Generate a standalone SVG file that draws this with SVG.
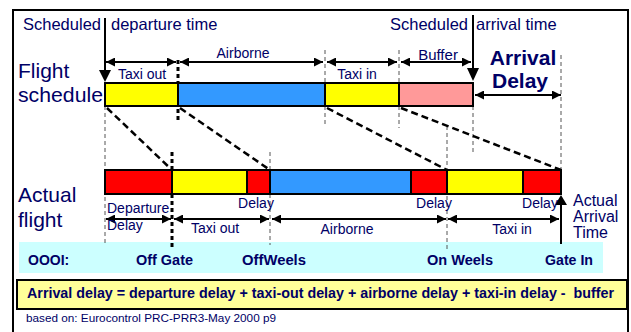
<svg xmlns="http://www.w3.org/2000/svg" width="631" height="332" viewBox="0 0 631 332">
<defs>
<marker id="ah" viewBox="0 0 10 10" refX="10" refY="5" markerWidth="5" markerHeight="4.5" markerUnits="strokeWidth" orient="auto-start-reverse">
<path d="M0,0 L10,5 L0,10 z" fill="#000"/>
</marker>
<style>
.t{font-family:"Liberation Sans",Arial,sans-serif;fill:#000066}
.b{font-weight:bold}
.bar{stroke:#000;stroke-width:2}
.dim{stroke:#000;stroke-width:2;fill:none;marker-start:url(#ah);marker-end:url(#ah)}
.thin{stroke:#555;stroke-width:1;stroke-dasharray:4,3;fill:none}
.thick{stroke:#000;stroke-width:3;stroke-dasharray:4,3;fill:none}
.diag{stroke:#000;stroke-width:2.5;stroke-dasharray:7,4;fill:none}
.solid{stroke:#000;stroke-width:2;fill:none}
</style>
</defs>
<rect width="631" height="332" fill="#fff"/>
<g id="frame">
<path d="M13,340 V10 H628 V340" fill="none" stroke="#000" stroke-width="2"/>
</g>
<g id="ooi-band">
<rect x="19" y="242" width="584" height="31" fill="#ccffff"/>
<text class="t b" x="28" y="265" font-size="14">OOOI:</text>
<text class="t b" x="136" y="265" font-size="14" textLength="57" lengthAdjust="spacingAndGlyphs">Off Gate</text>
<text class="t b" x="242" y="265" font-size="14" textLength="64" lengthAdjust="spacingAndGlyphs">OffWeels</text>
<text class="t b" x="427" y="265" font-size="14" textLength="66" lengthAdjust="spacingAndGlyphs">On Weels</text>
<text class="t b" x="545" y="265" font-size="14" textLength="48" lengthAdjust="spacingAndGlyphs">Gate In</text>
</g>
<g id="connectors">
<line class="thin" x1="105" y1="106" x2="105" y2="245"/>
<line class="thin" x1="325" y1="50" x2="325" y2="124"/>
<line class="thin" x1="399" y1="50" x2="399" y2="128"/>
<line class="thin" x1="473" y1="106" x2="473" y2="153"/>
<line class="thin" x1="561" y1="55" x2="561" y2="170"/>
<line class="thin" x1="270" y1="152" x2="270" y2="245"/>
<line class="thin" x1="447" y1="126" x2="447" y2="250"/>
<line class="thick" x1="178" y1="60" x2="178" y2="122"/>
<line class="thick" x1="172" y1="152" x2="172" y2="248"/>
<line class="diag" x1="107" y1="108" x2="172" y2="170"/>
<line class="diag" x1="180" y1="108" x2="270" y2="170"/>
<line class="diag" x1="327" y1="108" x2="447" y2="170"/>
<line class="diag" x1="401" y1="108" x2="561" y2="170"/>
<line class="solid" x1="105" y1="18" x2="105" y2="72"/>
<path d="M99,70 L111,70 L105,82 z" fill="#000"/>
<line class="solid" x1="473" y1="15" x2="473" y2="70"/>
<path d="M467,68 L479,68 L473,81 z" fill="#000"/>
<line class="solid" x1="561" y1="244" x2="561" y2="203"/>
<path d="M555,205 L567,205 L561,195 z" fill="#000"/>
<line class="dim" x1="106" y1="62" x2="176" y2="62"/>
<line class="dim" x1="180" y1="62" x2="323" y2="62"/>
<line class="dim" x1="327" y1="62" x2="397" y2="62"/>
<line class="dim" x1="401" y1="62" x2="471" y2="62"/>
<line class="dim" x1="475" y1="95" x2="561" y2="95"/>
<line class="dim" x1="106" y1="219" x2="171" y2="219"/>
<line class="dim" x1="174" y1="219" x2="269" y2="219"/>
<line class="dim" x1="272" y1="219" x2="446" y2="219"/>
<line class="dim" x1="448" y1="219" x2="559" y2="219"/>
</g>
<g id="schedule-bar">
<rect class="bar" x="105" y="83" width="73" height="23" fill="#ffff00"/>
<rect class="bar" x="178" y="83" width="147" height="23" fill="#3399ff"/>
<rect class="bar" x="325" y="83" width="74" height="23" fill="#ffff00"/>
<rect class="bar" x="399" y="83" width="74" height="23" fill="#ff9999"/>
</g>
<g id="actual-bar">
<rect class="bar" x="105" y="170" width="67" height="24" fill="#ff0000"/>
<rect class="bar" x="172" y="170" width="75" height="24" fill="#ffff00"/>
<rect class="bar" x="247" y="170" width="23" height="24" fill="#ff0000"/>
<rect class="bar" x="270" y="170" width="141" height="24" fill="#3399ff"/>
<rect class="bar" x="411" y="170" width="36" height="24" fill="#ff0000"/>
<rect class="bar" x="447" y="170" width="76" height="24" fill="#ffff00"/>
<rect class="bar" x="523" y="170" width="38" height="24" fill="#ff0000"/>
</g>
<g id="labels">
<text class="t" x="23" y="30" font-size="16.5">Scheduled</text>
<text class="t" x="111" y="30" font-size="16.5">departure time</text>
<text class="t" x="390" y="30" font-size="16.5">Scheduled</text>
<text class="t" x="476" y="30" font-size="16.5">arrival time</text>
<text class="t" x="18" y="78" font-size="21">Flight</text>
<text class="t" x="18" y="102" font-size="21" textLength="85" lengthAdjust="spacingAndGlyphs">schedule</text>
<text class="t" x="18" y="202" font-size="21">Actual</text>
<text class="t" x="18" y="227" font-size="21">flight</text>
<text class="t" x="142" y="79" font-size="14" text-anchor="middle">Taxi out</text>
<text class="t" x="243" y="58" font-size="14" text-anchor="middle">Airborne</text>
<text class="t" x="357" y="79" font-size="14" text-anchor="middle">Taxi in</text>
<text class="t" x="438" y="60" font-size="15" text-anchor="middle">Buffer</text>
<text class="t b" x="523" y="65" font-size="21" text-anchor="middle">Arrival</text>
<text class="t b" x="520" y="88" font-size="21" text-anchor="middle">Delay</text>
<text class="t" x="107" y="213" font-size="14">Departure</text>
<text class="t" x="107" y="230" font-size="14">Delay</text>
<text class="t" x="256" y="208" font-size="14" text-anchor="middle">Delay</text>
<text class="t" x="215" y="233" font-size="14" text-anchor="middle">Taxi out</text>
<text class="t" x="347" y="234" font-size="14" text-anchor="middle">Airborne</text>
<text class="t" x="434" y="208" font-size="14" text-anchor="middle">Delay</text>
<text class="t" x="512" y="234" font-size="14" text-anchor="middle">Taxi in</text>
<text class="t" x="540" y="208" font-size="14" text-anchor="middle">Delay</text>
<text class="t" x="573" y="206" font-size="16">Actual</text>
<text class="t" x="573" y="222" font-size="16">Arrival</text>
<text class="t" x="573" y="238" font-size="16">Time</text>
</g>
<g id="formula">
<rect x="17" y="280" width="610" height="29" fill="#ffff99" stroke="#000" stroke-width="2"/>
<text class="t b" x="27" y="298" font-size="14" textLength="587" lengthAdjust="spacingAndGlyphs" xml:space="preserve">Arrival delay = departure delay + taxi-out delay + airborne delay + taxi-in delay -  buffer</text>
</g>
<g id="source">
<text class="t" x="26" y="322" font-size="11" textLength="250" lengthAdjust="spacingAndGlyphs">based on: Eurocontrol PRC-PRR3-May 2000 p9</text>
</g>
</svg>
